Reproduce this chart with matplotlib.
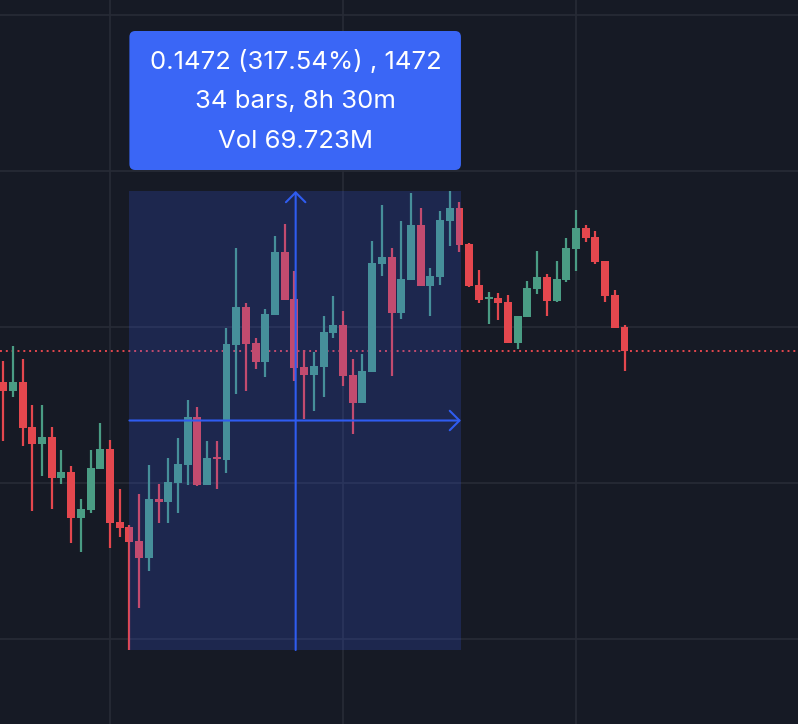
import matplotlib
matplotlib.use("Agg")
import matplotlib.pyplot as plt
from matplotlib.patches import Rectangle, FancyBboxPatch
from matplotlib.transforms import blended_transform_factory
import numpy as np

# --- 15m candles (price) ---
opens = [0.1323, 0.1294, 0.1323, 0.1179, 0.1124, 0.1147, 0.1015, 0.1034, 0.0887, 0.0913,
         0.1044, 0.1108, 0.0874, 0.0858, 0.0813, 0.0759, 0.0948, 0.0938, 0.0999, 0.1057,
         0.1211, 0.0993, 0.1083, 0.1073, 0.1442, 0.1564, 0.1448, 0.1387, 0.1538, 0.1740,
         0.1589, 0.1371, 0.1345, 0.1371, 0.1480, 0.1506, 0.1345, 0.1256, 0.1355, 0.1702,
         0.1724, 0.1544, 0.1650, 0.1827, 0.1631, 0.1660, 0.1839, 0.1881, 0.1766, 0.1634,
         0.1589, 0.1592, 0.1580, 0.1448, 0.1531, 0.1621, 0.1660, 0.1583, 0.1650, 0.1750,
         0.1817, 0.1788, 0.1711, 0.1602, 0.1500]
highs = [0.1390, 0.1439, 0.1397, 0.1249, 0.1249, 0.1179, 0.1105, 0.1054, 0.0948, 0.1105,
         0.1192, 0.1137, 0.0980, 0.0865, 0.0964, 0.1057, 0.0996, 0.1079, 0.1144, 0.1265,
         0.1243, 0.1134, 0.1134, 0.1496, 0.1753, 0.1576, 0.1464, 0.1557, 0.1791, 0.1830,
         0.1679, 0.1426, 0.1419, 0.1535, 0.1599, 0.1551, 0.1397, 0.1413, 0.1775, 0.1891,
         0.1753, 0.1839, 0.1929, 0.1881, 0.1689, 0.1871, 0.1936, 0.1900, 0.1769, 0.1682,
         0.1612, 0.1608, 0.1602, 0.1535, 0.1647, 0.1743, 0.1669, 0.1711, 0.1785, 0.1875,
         0.1827, 0.1807, 0.1711, 0.1618, 0.1506]
lows = [0.1134, 0.1275, 0.1118, 0.0909, 0.1022, 0.0916, 0.0996, 0.0807, 0.0778, 0.0903,
        0.1044, 0.0791, 0.0826, 0.0464, 0.0598, 0.0717, 0.0871, 0.0871, 0.0903, 0.0993,
        0.0990, 0.0993, 0.0980, 0.1031, 0.1285, 0.1294, 0.1365, 0.1339, 0.1538, 0.1586,
        0.1326, 0.1204, 0.1230, 0.1275, 0.1464, 0.1310, 0.1156, 0.1256, 0.1355, 0.1663,
        0.1342, 0.1525, 0.1650, 0.1631, 0.1535, 0.1634, 0.1759, 0.1740, 0.1628, 0.1576,
        0.1509, 0.1522, 0.1448, 0.1429, 0.1531, 0.1605, 0.1535, 0.1580, 0.1644, 0.1679,
        0.1772, 0.1702, 0.1580, 0.1496, 0.1358]
closes = [0.1294, 0.1323, 0.1176, 0.1124, 0.1147, 0.1015, 0.1034, 0.0887, 0.0916, 0.1047,
          0.1108, 0.0871, 0.0855, 0.0810, 0.0759, 0.0948, 0.0938, 0.1002, 0.1060, 0.1211,
          0.0993, 0.1079, 0.1076, 0.1445, 0.1564, 0.1445, 0.1387, 0.1541, 0.1740, 0.1586,
          0.1368, 0.1345, 0.1374, 0.1483, 0.1506, 0.1342, 0.1256, 0.1358, 0.1705, 0.1724,
          0.1544, 0.1653, 0.1827, 0.1631, 0.1663, 0.1843, 0.1881, 0.1762, 0.1631, 0.1586,
          0.1596, 0.1576, 0.1448, 0.1535, 0.1624, 0.1660, 0.1583, 0.1653, 0.1753, 0.1817,
          0.1785, 0.1708, 0.1599, 0.1496, 0.1422]

# measure tool: bar 13 -> bar 47
MEASURE_START, MEASURE_END = 13, 47
MEASURE_LOW, MEASURE_HIGH = 0.04636, 0.19356
measure_lines = ["0.1472 (317.54%) , 1472", "34 bars, 8h 30m", "Vol 69.723M"]

grid_bars = [11, 35, 59]
grid_prices = [0.05, 0.10, 0.15, 0.20, 0.25]

BG = "#161a25"
GRID = "#272b36"
UP = "#4a9c84"
DOWN = "#e4474e"
BLUE = "#2f5cf0"
LABEL_BG = "#3a66f6"

fig = plt.figure(figsize=(7.98, 7.24), dpi=100)
fig.patch.set_facecolor(BG)
ax = fig.add_axes([0, 0, 1, 1])
ax.set_facecolor(BG)
ax.set_xlim(-0.33, 81.87)
ax.set_ylim(0.02263, 0.25482)
ax.axis("off")

for gx in grid_bars:
    ax.axvline(gx, color=GRID, lw=1.2, zorder=0)
for gy in grid_prices:
    ax.axhline(gy, color=GRID, lw=1.2, zorder=0)

# candles
x = np.arange(len(opens))
o, h, l, c = map(np.array, (opens, highs, lows, closes))
colors = np.where(c >= o, UP, DOWN)
ax.vlines(x, l, h, colors=colors, lw=1.6, zorder=2)
body = np.maximum(np.abs(c - o), 0.0006)
ax.bar(x, body, bottom=np.minimum(o, c), width=0.82, color=colors, zorder=3, linewidth=0)

# last price line
ax.axhline(closes[-1], color=DOWN, lw=1.4, ls=(0, (1, 2)), zorder=1)

# measure box
right = MEASURE_END + 0.15
mid_x = (MEASURE_START + right) / 2 + 0.05
mid_y = (MEASURE_LOW + MEASURE_HIGH) / 2
ax.add_patch(Rectangle((MEASURE_START, MEASURE_LOW), right - MEASURE_START,
                       MEASURE_HIGH - MEASURE_LOW, facecolor="#3a5ef5", alpha=0.2,
                       edgecolor="none", zorder=4))
arrow = dict(arrowstyle="->,head_length=0.5,head_width=0.5", color=BLUE, lw=1.5,
             shrinkA=0, shrinkB=0, mutation_scale=14)
ax.annotate("", xy=(mid_x, MEASURE_HIGH), xytext=(mid_x, MEASURE_LOW), arrowprops=arrow, zorder=5)
ax.annotate("", xy=(right, mid_y), xytext=(MEASURE_START, mid_y), arrowprops=arrow, zorder=5)

# label above the box
trans = blended_transform_factory(ax.transData, ax.transAxes)
ax.add_patch(FancyBboxPatch((MEASURE_START, 1 - 170 / 724), right - MEASURE_START,
                            139 / 724, boxstyle="round,pad=0,rounding_size=0.6",
                            mutation_aspect=0.0138, facecolor=LABEL_BG, edgecolor="none",
                            transform=trans, zorder=6))
for line, yy in zip(measure_lines, [62, 102, 141]):
    ax.text(mid_x, 1 - yy / 724, line, transform=trans, ha="center", va="center",
            color="white", fontsize=18.5, family=["Inter", "DejaVu Sans"], zorder=7)

fig.savefig("out.png", dpi=100, facecolor=BG)
